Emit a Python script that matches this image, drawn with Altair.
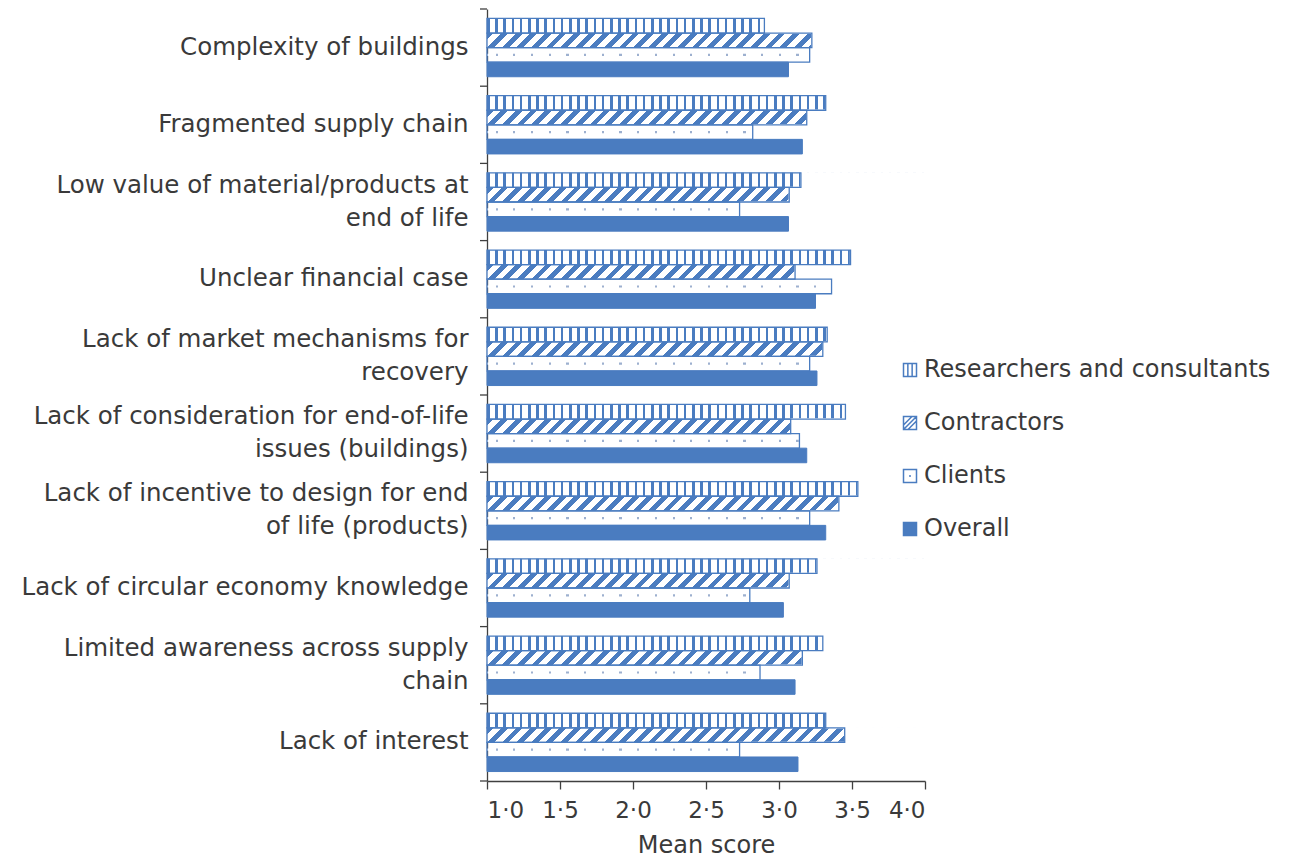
import altair as alt
import pandas as pd

categories = [
    "Complexity of buildings",
    "Fragmented supply chain",
    "Low value of material/products at\nend of life",
    "Unclear financial case",
    "Lack of market mechanisms for\nrecovery",
    "Lack of consideration for end-of-life\nissues (buildings)",
    "Lack of incentive to design for end\nof life (products)",
    "Lack of circular economy knowledge",
    "Limited awareness across supply\nchain",
    "Lack of interest",
]
series = ["Researchers and consultants", "Contractors", "Clients", "Overall"]
researchers = [2.90, 3.32, 3.15, 3.49, 3.33, 3.455, 3.54, 3.26, 3.30, 3.32]
contractors = [3.225, 3.19, 3.07, 3.11, 3.30, 3.08, 3.41, 3.07, 3.16, 3.45]
clients = [3.21, 2.82, 2.73, 3.36, 3.21, 3.14, 3.21, 2.80, 2.87, 2.73]
overall = [3.065, 3.16, 3.065, 3.25, 3.26, 3.19, 3.32, 3.03, 3.11, 3.13]
x_ticks = [1.0, 1.5, 2.0, 2.5, 3.0, 3.5, 4.0]
x_domain = [1.0, 4.0]

BLUE = "#4a7cc0"
DOT = "#9db0cf"
TEXT = "#3a3a3a"
AXIS = "#404040"
FONT = "DejaVu Sans"
PW = 438
PH = 772
PAD_IN = 0.245
STEP = PH / 10
BAR_H = STEP * (1 - PAD_IN) / 4
GAP_PX = PAD_IN * STEP / 2

rows = []
for i, c in enumerate(categories):
    for s, vals in zip(series, [researchers, contractors, clients, overall]):
        rows.append({"category": c, "series": s, "score": vals[i],
                     "lo": x_domain[0], "hi": x_domain[1]})
df = pd.DataFrame(rows)
df_cat = pd.DataFrame({"category": categories})
df_last = pd.DataFrame({"category": categories[-1:]})


def stripes(period, ink, color, first=0.0, total=PW):
    stops = []
    x = first
    if first > 0:
        stops.append(alt.GradientStop(offset=0, color="white"))
        stops.append(alt.GradientStop(offset=first / total, color="white"))
    while x < total:
        a = x / total
        b = min((x + ink) / total, 1)
        c = min((x + period) / total, 1)
        stops += [
            alt.GradientStop(offset=min(a, 1), color=color),
            alt.GradientStop(offset=b, color=color),
            alt.GradientStop(offset=b, color="white"),
            alt.GradientStop(offset=c, color="white"),
        ]
        x += period
    return stops


vert_grad = alt.LinearGradient(
    gradient="linear", x1=0, y1=0, x2=1, y2=0, stops=stripes(8.2, 2.6, BLUE)
)
r = BAR_H / PW
s_fac = (1 + r) / (1 + r * r)
diag_total = PW + BAR_H
diag_grad = alt.LinearGradient(
    gradient="linear", x1=0, y1=0, x2=s_fac, y2=s_fac * r,
    stops=stripes(14.6, 6.8, BLUE, total=diag_total),
)
dot_grad = alt.LinearGradient(
    gradient="linear", x1=0, y1=0, x2=1, y2=0, stops=stripes(17.7, 2.2, DOT, first=8.5)
)

x_scale = alt.Scale(domain=x_domain, zero=False, nice=False)
x_axis = alt.Axis(
    values=x_ticks,
    labelExpr="replace(format(datum.value, '.1f'), '.', '·')",
    title="Mean score",
    grid=False,
    tickSize=8,
    labelPadding=10,
    titlePadding=11,
    labelFontSize=23,
    titleFontSize=24,
    titleFontWeight="normal",
    labelFont=FONT,
    titleFont=FONT,
    labelColor=TEXT,
    titleColor=TEXT,
    domainColor=AXIS,
    tickColor=AXIS,
    domainWidth=1.3,
    tickWidth=1.3,
)
NBSP = "\u00a0"
BLANK = "\u2800"
y_axis = alt.Axis(
    title=None,
    labelExpr=(
        "indexof(datum.label, '\\n') >= 0 ? "
        "[split(datum.label, '\\n')[0], '" + BLANK + "', split(datum.label, '\\n')[1]] : "
        "['" + NBSP + "', datum.label]"
    ),
    labelFontSize=24.5,
    labelLineHeight=16.5,
    labelOffset=-16.5,
    labelFont=FONT,
    labelColor=TEXT,
    labelLimit=600,
    ticks=False,
    labelPadding=19,
    minExtent=474,
    maxExtent=474,
    domainColor=AXIS,
    domainWidth=1.3,
)
y_scale = alt.Scale(paddingInner=PAD_IN, paddingOuter=PAD_IN / 2)

base = alt.Chart(df).encode(
    y=alt.Y("category:N", sort=categories, scale=y_scale, axis=y_axis),
    yOffset=alt.YOffset("series:N", sort=series, scale=alt.Scale(domain=series, paddingInner=0, paddingOuter=0)),
)

x_lo = alt.X("lo:Q", scale=x_scale, axis=x_axis)
x_hi = alt.X2("hi:Q")

pat_r = base.transform_filter(alt.datum.series == series[0]).mark_bar(fill=vert_grad, strokeWidth=0).encode(x=x_lo, x2=x_hi)
pat_c = base.transform_filter(alt.datum.series == series[1]).mark_bar(fill=diag_grad, strokeWidth=0).encode(x=x_lo, x2=x_hi)
pat_cl = base.transform_filter(alt.datum.series == series[2]).mark_bar(fill=dot_grad, strokeWidth=0, size=2.2).encode(x=x_lo, x2=x_hi)
cover = base.transform_filter(alt.datum.series != series[3]).mark_bar(fill="white", stroke="white", strokeWidth=1.4).encode(
    x=alt.X("score:Q", scale=x_scale, axis=x_axis), x2=x_hi
)
outline = base.transform_filter(alt.datum.series != series[3]).mark_bar(fill="transparent", stroke=BLUE, strokeWidth=1.3).encode(
    x=x_lo, x2=alt.X2("score:Q")
)
solid = base.transform_filter(alt.datum.series == series[3]).mark_bar(fill=BLUE, stroke=BLUE, strokeWidth=1).encode(
    x=x_lo, x2=alt.X2("score:Q")
)

# category boundary ticks on the y axis (midway in the gaps between bands)
ticks_top = alt.Chart(df_cat).mark_rule(color=AXIS, strokeWidth=1.3, yOffset=-GAP_PX).encode(
    y=alt.Y("category:N", sort=categories, scale=y_scale, axis=y_axis, bandPosition=0),
    x=alt.value(-7),
    x2=alt.value(0),
)
ticks_end = alt.Chart(df_last).mark_rule(color=AXIS, strokeWidth=1.3, yOffset=GAP_PX).encode(
    y=alt.Y("category:N", sort=categories, scale=y_scale, axis=y_axis, bandPosition=1),
    x=alt.value(-7),
    x2=alt.value(0),
)

paths = [
    "M-1,-1H1V1H-1Z M-0.33,-1V1 M0.33,-1V1",
    "M-1,-1H1V1H-1Z M-1,1L1,-1 M-1,0.3L0.3,-1 M-0.3,1L1,-0.3",
    "M-1,-1H1V1H-1Z M-0.15,0H0.15",
    "M-1,-1H1V1H-1Z",
]
legend = alt.Legend(
    title=None,
    orient="none",
    legendX=411,
    legendY=349,
    symbolSize=169,
    symbolStrokeWidth=1.5,
    symbolOpacity=1,
    labelFontSize=24,
    labelFont=FONT,
    labelColor=TEXT,
    labelOffset=2,
    labelLimit=500,
    rowPadding=29,
    padding=0,
)
legend_layer = base.mark_point(opacity=0, filled=True).encode(
    x=alt.X("score:Q", scale=x_scale, axis=x_axis),
    shape=alt.Shape("series:N", sort=series, scale=alt.Scale(domain=series, range=paths), legend=legend),
    fill=alt.Fill("series:N", sort=series, scale=alt.Scale(domain=series, range=["white", "white", "white", BLUE]), legend=legend),
    stroke=alt.Stroke("series:N", sort=series, scale=alt.Scale(domain=series, range=[BLUE] * 4), legend=legend),
)

chart = (
    alt.layer(pat_r, pat_c, pat_cl, cover, outline, solid, ticks_top, ticks_end, legend_layer)
    .properties(
        width=PW,
        height=PH,
        padding={"left": 5, "top": 0, "right": 5, "bottom": 0},
    )
    .configure_view(stroke=None)
)

chart.save("out.html", embed_options={"renderer": "svg", "actions": False})
